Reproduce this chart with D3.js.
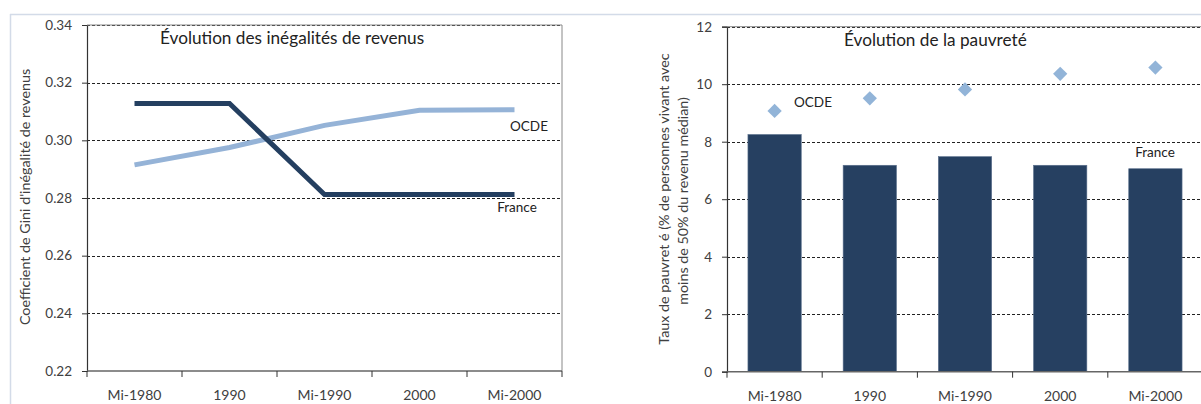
<!DOCTYPE html>
<html><head><meta charset="utf-8">
<script src="https://cdn.jsdelivr.net/npm/d3@7"></script>
<style>
body{margin:0;background:#fff;}
svg{display:block;font-family:Lato,"Open Sans",sans-serif;}
</style></head>
<body>
<svg id="c" width="1201" height="404"></svg>
<script>
const categories = ["Mi-1980","1990","Mi-1990","2000","Mi-2000"];
const giniFrance = [0.3128,0.3128,0.2812,0.2812,0.2812];
const giniOCDE = [0.2915,0.2975,0.3052,0.3104,0.3106];
const giniTicks = [0.22,0.24,0.26,0.28,0.30,0.32,0.34];
const povFrance = [8.25,7.18,7.48,7.18,7.06];
const povOCDE = [9.07,9.51,9.82,10.36,10.58];
const povTicks = [0,2,4,6,8,10,12];

const svg = d3.select("#c");
const txt = "#404040";
const FT = "Lato,'Open Sans',sans-serif";

// outer light frame
svg.append("line").attr("x1",10).attr("x2",1201).attr("y1",14.5).attr("y2",14.5).attr("stroke","#d3dbe8").attr("stroke-width",1.5);
svg.append("line").attr("x1",10.5).attr("x2",10.5).attr("y1",14).attr("y2",404).attr("stroke","#d3dbe8").attr("stroke-width",1.5);

function yAxisDraw(g, y, ticks, fmt, x0, x1){
  g.selectAll(".grid").data(ticks.slice(1)).join("line")
    .attr("x1",x0).attr("x2",x1)
    .attr("y1",d=>Math.round(y(d))+0.5).attr("y2",d=>Math.round(y(d))+0.5)
    .attr("stroke","#222").attr("stroke-width",1).attr("stroke-dasharray","3,2");
  const ax = d3.axisLeft(y).tickValues(ticks).tickSize(5).tickPadding(10).tickFormat(fmt);
  const a = g.append("g").attr("transform",`translate(${x0},0)`).call(ax);
  a.select(".domain").attr("stroke","#333").attr("stroke-width",1.2);
  a.selectAll(".tick line").attr("stroke","#333");
  a.selectAll("text").attr("fill",txt).style("font-size","13.5px").style("font-family",FT);
}
function xAxisDraw(g, x, yBase, cats){
  const bounds = cats.map(c=>x(c)).concat([x(cats[cats.length-1])+x.step()]);
  g.append("line").attr("x1",bounds[0]).attr("x2",bounds[bounds.length-1]).attr("y1",yBase).attr("y2",yBase).attr("stroke","#666").attr("stroke-width",1.5);
  g.selectAll(".xt").data(bounds).join("line")
    .attr("x1",d=>d).attr("x2",d=>d).attr("y1",yBase).attr("y2",yBase+6).attr("stroke","#333");
  g.selectAll(".xl").data(cats).join("text")
    .attr("x",d=>x(d)+x.bandwidth()/2).attr("y",yBase+29)
    .attr("text-anchor","middle").attr("fill",txt).style("font-size","14px").text(d=>d);
}

// ---------- Left chart ----------
const L = {x0:87, x1:562, y0:25, y1:371};
const gL = svg.append("g");
const xL = d3.scaleBand().domain(categories).range([L.x0,L.x1]);
const yL = d3.scaleLinear().domain([0.22,0.34]).range([L.y1,L.y0]);
yAxisDraw(gL, yL, giniTicks, d3.format(".2f"), L.x0, L.x1);
gL.append("line").attr("x1",L.x0).attr("x2",L.x1).attr("y1",L.y0).attr("y2",L.y0).attr("stroke","#888");
gL.append("line").attr("x1",L.x1).attr("x2",L.x1).attr("y1",L.y0).attr("y2",L.y1).attr("stroke","#888");
xAxisDraw(gL, xL, L.y1, categories);
const lineL = d3.line().x((d,i)=>xL(categories[i])+xL.bandwidth()/2).y(d=>yL(d));
gL.append("path").datum(giniOCDE).attr("d",lineL).attr("fill","none").attr("stroke","#95b3d7").attr("stroke-width",5);
gL.append("path").datum(giniFrance).attr("d",lineL).attr("fill","none").attr("stroke","#243f60").attr("stroke-width",5);
gL.append("text").attr("x",529).attr("y",131).attr("text-anchor","middle").attr("fill","#222").style("font-size","13.5px").text("OCDE");
gL.append("text").attr("x",517).attr("y",211.5).attr("text-anchor","middle").attr("fill","#222").style("font-size","13.5px").text("France");
gL.append("text").attr("x",160).attr("y",44).attr("fill","#222").style("font-size","17.2px").text("Évolution des inégalités de revenus");
gL.append("text").attr("transform","translate(30,197) rotate(-90)").attr("text-anchor","middle").attr("fill",txt).style("font-size","14.3px").text("Coefficient de Gini d'inégalité de revenus");

// ---------- Right chart ----------
const R = {x0:727, x1:1203, y0:26.7, y1:371.7};
const gR = svg.append("g");
const xR = d3.scaleBand().domain(categories).range([R.x0,R.x1]);
const xRb = d3.scaleBand().domain(categories).range([R.x0,R.x1]).paddingInner(0.44).paddingOuter(0.22);
const yR = d3.scaleLinear().domain([0,12]).range([R.y1,R.y0]);
yAxisDraw(gR, yR, povTicks, d3.format("d"), R.x0, R.x1);
gR.append("line").attr("x1",R.x0).attr("x2",R.x1).attr("y1",R.y0).attr("y2",R.y0).attr("stroke","#888");
gR.selectAll(".bar").data(povFrance).join("rect")
  .attr("x",(d,i)=>xRb(categories[i])).attr("width",xRb.bandwidth())
  .attr("y",d=>yR(d)).attr("height",d=>yR(0)-yR(d))
  .attr("fill","#264061").attr("stroke","#5a6f8c").attr("stroke-width",0.6);
xAxisDraw(gR, xR, R.y1, categories);
const sym = d3.symbol().type(d3.symbolDiamond2).size(130);
gR.selectAll(".dm").data(povOCDE).join("path")
  .attr("transform",(d,i)=>`translate(${xR(categories[i])+xR.bandwidth()/2},${yR(d)})`)
  .attr("d",sym).attr("fill","#92b4d8");
gR.append("text").attr("x",813).attr("y",106.5).attr("text-anchor","middle").attr("fill","#222").style("font-size","13.5px").text("OCDE");
gR.append("text").attr("x",1155).attr("y",156.5).attr("text-anchor","middle").attr("fill","#222").style("font-size","13.5px").text("France");
gR.append("text").attr("x",844).attr("y",46).attr("fill","#222").style("font-size","17.2px").text("Évolution de la pauvreté");
gR.append("text").attr("transform","translate(669,199) rotate(-90)").attr("text-anchor","middle").attr("fill",txt).style("font-size","14.3px").text("Taux de pauvret é (% de personnes vivant avec");
gR.append("text").attr("transform","translate(687.5,201) rotate(-90)").attr("text-anchor","middle").attr("fill",txt).style("font-size","14.3px").text("moins de 50% du revenu médian)");
</script>
</body></html>
